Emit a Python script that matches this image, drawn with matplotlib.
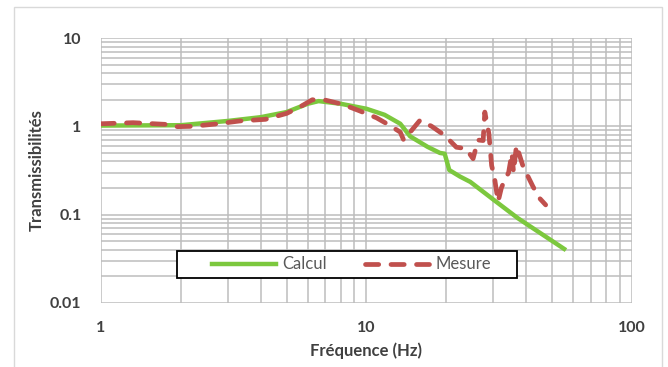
import matplotlib.pyplot as plt
from matplotlib.patches import Rectangle

plt.rcParams.update({'font.family': ['Lato', 'DejaVu Sans'], 'font.size': 10})

# data
calc_f = [1.0, 2.0, 3.0, 4.0, 5.0, 6.0, 6.6, 8.0, 10.0, 11.7, 13.4, 14.6, 17.0,
          18.9, 19.7, 20.5, 22.5, 24.6, 30.8, 37.2, 55.5]
calc_t = [1.02, 1.03, 1.15, 1.27, 1.45, 1.8, 1.93, 1.8, 1.58, 1.35, 1.07, 0.77, 0.585,
          0.5, 0.49, 0.32, 0.27, 0.235, 0.14, 0.091, 0.041]

mes_f = [1.0, 1.32, 1.78, 1.9, 2.2, 2.77, 3.33, 4.16, 5.0, 5.6, 6.25, 7.0, 8.1, 9.4,
         10.9, 12.2, 13.4, 13.8, 15.9, 17.6, 19.7, 21.8, 23.7, 25.2, 26.3, 27.5, 27.9,
         28.9, 29.6, 30.3, 31.3, 32.2, 33.0, 34.3, 35.3, 35.8, 36.7, 38.9, 42.4, 44.9, 47.3]
mes_t = [1.07, 1.1, 1.05, 0.99, 1.0, 1.07, 1.15, 1.2, 1.4, 1.65, 2.0, 1.98, 1.78, 1.5,
         1.25, 1.03, 0.86, 0.70, 1.17, 1.0, 0.79, 0.58, 0.56, 0.43, 0.70, 0.69, 1.45,
         0.83, 0.36, 0.27, 0.14, 0.2, 0.24, 0.3, 0.5, 0.3, 0.61, 0.35, 0.207, 0.153, 0.129]

fig, ax = plt.subplots(figsize=(6.68, 3.67), dpi=100)
fig.subplots_adjust(left=101 / 668, right=632 / 668, top=1 - 38 / 367, bottom=1 - 303 / 367)

ax.plot(calc_f, calc_t, color='#7CC83E', lw=3.2, label='Calcul', zorder=3)
ax.plot(mes_f, mes_t, color='#C0504D', lw=3.4, ls=(0, (2.8, 2.6)), dash_capstyle='round',
        label='Mesure', zorder=4)

ax.set_xscale('log')
ax.set_yscale('log')
ax.set_xlim(1, 100)
ax.set_ylim(0.01, 10)

ax.set_xticks([1, 10, 100])
ax.set_xticklabels(['1', '10', '100'])
ax.set_yticks([0.01, 0.1, 1, 10])
ax.set_yticklabels(['0.01', '0.1', '1', '10'])
ax.grid(True, which='both', color='#BDBDBD', lw=1.1)
ax.tick_params(which='both', length=0, labelsize=11.5, colors='#404040')
ax.tick_params(axis='x', pad=13)
ax.tick_params(axis='y', pad=14)
for lbl in ax.get_xticklabels() + ax.get_yticklabels():
    lbl.set_fontweight('bold')
for s in ax.spines.values():
    s.set_visible(False)

ax.set_xlabel('Fréquence (Hz)', fontsize=12, fontweight='bold', color='#404040', labelpad=5)
ax.set_ylabel('Transmissibilités', fontsize=12, fontweight='bold', color='#404040', labelpad=4)

# legend box drawn by hand so it sits where the reference has it
ax.add_patch(Rectangle((0.144, 0.094), 0.639, 0.103, transform=ax.transAxes,
                       facecolor='white', edgecolor='black', lw=1.3, zorder=5))
leg = ax.legend(loc='center', bbox_to_anchor=(0.472, 0.1455), ncol=2, frameon=False,
                fontsize=12, handlelength=3.8, handletextpad=0.4, columnspacing=2.3,
                borderaxespad=0, labelcolor='#595959')
leg.set_zorder(6)

fig.patches.append(Rectangle((14 / 668, -0.1), 648 / 668, 1.1 - 7 / 367, transform=fig.transFigure,
                             fill=False, edgecolor='#D9D9D9', lw=1.0))

fig.savefig('out.png', dpi=100)
